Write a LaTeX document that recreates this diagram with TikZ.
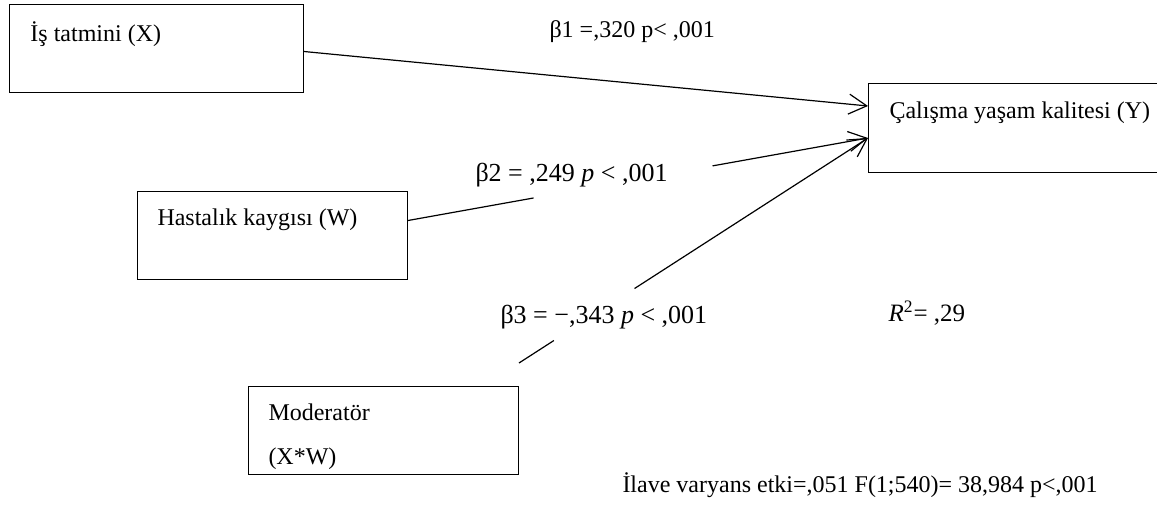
\documentclass[tikz,border=0pt]{standalone}
\usepackage{fontspec}
\setmainfont{Liberation Serif}
\usepackage{tikz}
\usetikzlibrary{arrows.meta,calc}

\begin{document}
\begin{tikzpicture}[x=0.5pt,y=-0.5pt,line width=0.5pt,
  box/.style={draw,rectangle,anchor=north west,inner sep=0pt,minimum height=44pt},
  lbl/.style={anchor=base west,inner sep=0pt,font=\fontsize{12}{14}\selectfont},
  mlbl/.style={lbl,font=\fontsize{13}{15}\selectfont},
  arr/.style={-{Straight Barb[length=9pt,width=10pt]}}]
\useasboundingbox (0,0) rectangle (1157,504);
% boxes
\node[box,minimum width=147pt] (X) at (9,4) {};
\node[box,minimum width=135pt] (W) at (137,191) {};
\node[box,minimum width=135pt] (M) at (248,386) {};
\node[box,minimum width=152pt,minimum height=44.5pt] (Y) at (868,83) {};
% box texts
\node[lbl] (tX) at (30,41) {İş tatmini (X)};
\node[lbl] (tW) at (157,225) {Hastalık kaygısı (W)};
\node[lbl] (tY) at (889,118) {Çalışma yaşam kalitesi (Y)};
\node[lbl] (tM1) at (268,420) {Moderatör};
\node[lbl] (tM2) at (268,464) {(X*W)};
% coefficients
\node[lbl] (b1) at (549,37) {β1 =,320 p< ,001};
\node[mlbl] (b2) at (475,181) {β2 = ,249 \textit{p} < ,001};
\node[mlbl] (b3) at (500,323) {β3 = −,343 \textit{p} < ,001};
\node[lbl,font=\fontsize{12.5}{15}\selectfont] (r2) at (888,321) {\textit{R}\textsuperscript{2}= ,29};
\node[lbl] (ilave) at (622,492) {İlave varyans etki=,051 F(1;540)= 38,984 p<,001};
% paths
\coordinate (y1) at (868,106);
\coordinate (y2) at (868,138);
\coordinate (ws) at ([yshift=7.5pt]W.east);
\coordinate (ms) at ([yshift=11.5pt]M.north east);
\draw[arr,line width=0.6pt] ([yshift=-1.5pt]X.east) -- (y1);
\draw[line width=0.6pt] (ws) -- ($(ws)!0.273!(y2)$);
\draw[arr,line width=0.6pt] ($(ws)!0.662!(y2)$) -- (y2);
\draw[line width=0.6pt] (ms) -- ($(ms)!0.1!(y2)$);
\draw[arr,line width=0.6pt] ($(ms)!0.331!(y2)$) -- (y2);
\end{tikzpicture}
\end{document}
